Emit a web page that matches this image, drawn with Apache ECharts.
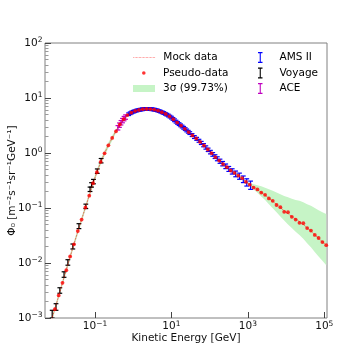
<!DOCTYPE html>
<html>
<head>
<meta charset="utf-8">
<title>Flux spectrum</title>
<script src="https://cdn.jsdelivr.net/npm/echarts@6.0.0/dist/echarts.min.js"></script>
<style>
  html, body { margin: 0; padding: 0; background: #fff; }
  #chart { width: 364px; height: 364px; }
</style>
</head>
<body>
<div id="chart"></div>
<script>
// every value below is log10: energy in GeV, flux in m^-2 s^-1 sr^-1 GeV^-1
var mockLogE = [-2.15, -2.05, -1.95, -1.85, -1.75, -1.65, -1.55, -1.45, -1.35, -1.25, -1.15, -1.05, -0.95, -0.85, -0.75, -0.65, -0.55, -0.45, -0.35, -0.25, -0.15, -0.05,
  0.05, 0.15, 0.25, 0.35, 0.45, 0.55, 0.65, 0.75, 0.85, 0.95, 1.05, 1.15, 1.25, 1.35, 1.45, 1.55, 1.65, 1.75, 1.85, 1.95, 2.05, 2.15, 2.25, 2.35, 2.45, 2.55, 2.65, 2.75, 2.85, 2.95,
  3.05, 3.15, 3.25, 3.35, 3.45, 3.55, 3.65, 3.75, 3.85, 3.95, 4.05, 4.15, 4.25, 4.35, 4.45, 4.55, 4.65, 4.75, 4.85, 4.95, 5.05];
var mockLogFlux = [-3.065, -2.835, -2.60, -2.36, -2.12, -1.885, -1.655, -1.43, -1.21, -0.99, -0.77, -0.55, -0.345, -0.165, -0.005, 0.14, 0.272, 0.398, 0.518, 0.618, 0.688, 0.733,
  0.763, 0.783, 0.796, 0.801, 0.798, 0.788, 0.769, 0.742, 0.709, 0.667, 0.613, 0.554, 0.498, 0.44, 0.38, 0.32, 0.263, 0.203, 0.135, 0.065, -0.005, -0.073, -0.138, -0.20, -0.26, -0.315, -0.365, -0.41, -0.46, -0.522,
  -0.578, -0.623, -0.668, -0.715, -0.765, -0.82, -0.878, -0.935, -0.993, -1.05, -1.105, -1.155, -1.203, -1.248, -1.30, -1.36, -1.42, -1.485, -1.553, -1.615, -1.675];
var pseudoLogFlux = [-3.06, -2.84, -2.59, -2.36, -2.13, -1.88, -1.66, -1.42, -1.21, -0.99, -0.775, -0.55, -0.35, -0.16, -0.005, 0.14, 0.275, 0.395, 0.52, 0.615, 0.69, 0.733,
  0.765, 0.782, 0.797, 0.80, 0.799, 0.787, 0.77, 0.741, 0.71, 0.666, 0.614, 0.553, 0.499, 0.44, 0.381, 0.319, 0.264, 0.202, 0.136, 0.064, -0.004, -0.075, -0.137, -0.202, -0.258, -0.318, -0.362, -0.413, -0.458, -0.525,
  -0.575, -0.628, -0.662, -0.72, -0.76, -0.825, -0.87, -0.945, -0.985, -1.07, -1.075, -1.16, -1.21, -1.27, -1.275, -1.365, -1.41, -1.49, -1.545, -1.62, -1.675];
// 3 sigma band, distance above / below the mock curve
var bandUp = [0.05, 0.05, 0.05, 0.05, 0.05, 0.05, 0.05, 0.05, 0.05, 0.05, 0.05, 0.05, 0.05, 0.05, 0.05, 0.05, 0.05, 0.03, 0.03, 0.03, 0.03, 0.03,
  0.03, 0.03, 0.03, 0.03, 0.02, 0.02, 0.02, 0.02, 0.02, 0.02, 0.02, 0.02, 0.02, 0.02, 0.02, 0.02, 0.02, 0.02, 0.02, 0.02, 0.02, 0.02, 0.02, 0.02, 0.02, 0.02, 0.02, 0.02, 0.02, 0.02,
  0.03, 0.055, 0.08, 0.11, 0.135, 0.16, 0.19, 0.215, 0.245, 0.27, 0.30, 0.325, 0.35, 0.38, 0.405, 0.43, 0.46, 0.485, 0.51, 0.54, 0.565];
var bandDown = [0.05, 0.05, 0.05, 0.05, 0.05, 0.05, 0.05, 0.05, 0.05, 0.05, 0.05, 0.05, 0.05, 0.05, 0.05, 0.05, 0.05, 0.03, 0.03, 0.03, 0.03, 0.03,
  0.03, 0.03, 0.03, 0.03, 0.02, 0.02, 0.02, 0.02, 0.02, 0.02, 0.02, 0.02, 0.02, 0.02, 0.02, 0.02, 0.02, 0.02, 0.02, 0.02, 0.02, 0.02, 0.02, 0.02, 0.02, 0.02, 0.02, 0.02, 0.02, 0.02,
  0.025, 0.04, 0.055, 0.075, 0.09, 0.11, 0.125, 0.14, 0.16, 0.175, 0.195, 0.21, 0.23, 0.245, 0.26, 0.28, 0.295, 0.315, 0.33, 0.345, 0.365];

var amsLogE = [-0.12, -0.08, -0.04, 0.00, 0.04, 0.08, 0.12, 0.16, 0.20, 0.24, 0.28, 0.32, 0.36, 0.40, 0.44, 0.48, 0.52, 0.56, 0.60, 0.64, 0.68, 0.72, 0.76, 0.80, 0.84, 0.88, 0.92, 0.96,
  1.00, 1.04, 1.08, 1.12, 1.16, 1.20, 1.24, 1.28, 1.32, 1.36, 1.40, 1.44, 1.48, 1.54, 1.60, 1.66, 1.72, 1.78, 1.84, 1.90, 1.96, 2.02, 2.08, 2.14, 2.20, 2.27, 2.34, 2.42, 2.50, 2.59, 2.68, 2.78, 2.88, 2.97, 3.07];
var amsLogFlux = [0.705, 0.722, 0.737, 0.750, 0.760, 0.770, 0.778, 0.784, 0.790, 0.794, 0.798, 0.800, 0.801, 0.800, 0.799, 0.796, 0.792, 0.787, 0.780, 0.772, 0.762, 0.751, 0.739, 0.727, 0.712, 0.697, 0.681, 0.662,
  0.643, 0.620, 0.595, 0.570, 0.547, 0.525, 0.503, 0.481, 0.458, 0.434, 0.410, 0.386, 0.362, 0.326, 0.290, 0.257, 0.222, 0.183, 0.142, 0.100, 0.058, 0.016, -0.026, -0.066, -0.105, -0.150, -0.194, -0.242, -0.290, -0.335, -0.380, -0.422, -0.478, -0.535, -0.586];
var amsErr = [0.024, 0.024, 0.024, 0.024, 0.024, 0.024, 0.024, 0.024, 0.024, 0.024, 0.024, 0.024, 0.024, 0.024, 0.024, 0.024, 0.024, 0.024, 0.024, 0.024, 0.024, 0.024, 0.024, 0.024, 0.024, 0.024, 0.024, 0.024,
  0.025, 0.025, 0.025, 0.025, 0.025, 0.025, 0.025, 0.025, 0.025, 0.025, 0.025, 0.025, 0.025, 0.026, 0.026, 0.027, 0.027, 0.028, 0.029, 0.03, 0.031, 0.032, 0.033, 0.034, 0.036, 0.038, 0.04, 0.042, 0.045, 0.048, 0.052, 0.056, 0.06, 0.066, 0.075];

var voyLogE = [-2.12, -2.02, -1.92, -1.81, -1.71, -1.58, -1.42, -1.24, -1.13, -1.09, -1.04, -0.94, -0.84];
var voyLogFlux = [-2.93, -2.80, -2.50, -2.21, -1.99, -1.70, -1.33, -0.97, -0.66, -0.58, -0.52, -0.33, -0.14];
var voyErr = [0.07, 0.06, 0.05, 0.05, 0.05, 0.045, 0.045, 0.04, 0.04, 0.04, 0.04, 0.04, 0.04];

var aceLogE = [-0.40, -0.36, -0.32, -0.28, -0.24, -0.20];
var aceLogFlux = [0.458, 0.506, 0.55, 0.589, 0.625, 0.653];
var aceErr = [0.04, 0.04, 0.04, 0.04, 0.04, 0.04];

var xTickExp = [-1, 1, 3, 5];
var yTickExp = [-3, -2, -1, 0, 1, 2];

var font = 'DejaVu Sans';
var yMinor = [];
for (var n = -3; n < 2; n++) {
  for (var k = 2; k <= 9; k++) yMinor.push(n + Math.log10(k));
}

function pairs(xs, ys) {
  return xs.map(function (x, i) { return [x, ys[i]]; });
}
function triples(xs, ys, es) {
  return xs.map(function (x, i) { return [x, ys[i], es[i]]; });
}

function powLabel(v) {
  var n = Math.round(v);
  return '{b|10}{s|' + (n < 0 ? '\u2212' + (-n) : n) + '}';
}
var tickRich = {
  b: { fontSize: 10.5, lineHeight: 13, fontFamily: font, color: '#111' },
  s: { fontSize: 7.5, lineHeight: 6, verticalAlign: 'top', fontFamily: font, color: '#111' }
};

function errorBars(params, api) {
  var x = api.value(0), y = api.value(1), e = api.value(2);
  var hi = api.coord([x, y + e]);
  var lo = api.coord([x, y - e]);
  var cap = 2.4;
  var style = { stroke: api.visual('color'), lineWidth: 1.2, fill: null };
  return {
    type: 'group',
    children: [
      { type: 'line', shape: { x1: hi[0], y1: hi[1], x2: lo[0], y2: lo[1] }, style: style },
      { type: 'line', shape: { x1: hi[0] - cap, y1: hi[1], x2: hi[0] + cap, y2: hi[1] }, style: style },
      { type: 'line', shape: { x1: lo[0] - cap, y1: lo[1], x2: lo[0] + cap, y2: lo[1] }, style: style }
    ]
  };
}

// the whole band is one polygon, drawn once from the arrays
function bandPolygon(params, api) {
  if (params.dataIndex !== 0) return null;
  var pts = [];
  for (var i = 0; i < mockLogE.length; i++) pts.push(api.coord([mockLogE[i], mockLogFlux[i] + bandUp[i]]));
  for (var j = mockLogE.length - 1; j >= 0; j--) pts.push(api.coord([mockLogE[j], mockLogFlux[j] - bandDown[j]]));
  return { type: 'polygon', shape: { points: pts }, style: { fill: '#c6f4c6', stroke: null } };
}

var ibeam = 'path://M0,0H5V1.2H3.1V10.8H5V12H0V10.8H1.9V1.2H0Z';
function legendAt(item, left, top, w, h, pad) {
  return {
    data: [item], left: left, top: top, itemWidth: w, itemHeight: h, padding: 0,
    selectedMode: false,
    textStyle: { fontFamily: font, fontSize: 10.5, lineHeight: 14, color: '#000', padding: [0, 0, 0, pad] }
  };
}

var chart = echarts.init(document.getElementById('chart'), null, { renderer: 'canvas' });
chart.setOption({
  animation: false,
  backgroundColor: '#fff',
  grid: { left: 45, right: 37, top: 43, bottom: 46, outerBoundsMode: 'none', containLabel: false,
    show: true, borderColor: '#808080', borderWidth: 1 },
  legend: [
    legendAt({ name: 'Mock data', itemStyle: { opacity: 0 },
      lineStyle: { width: 0.7, color: '#ff5050', type: 'dotted' } }, 133, 50.5, 22, 4, 3),
    legendAt({ name: 'Pseudo-data', icon: 'circle' }, 142, 66, 3.6, 3.6, 12.4),
    legendAt({ name: '3\u03c3 (99.73%)', icon: 'rect', itemStyle: { color: '#c6f4c6' } }, 133, 81.5, 22, 7, 3),
    legendAt({ name: 'AMS II', icon: ibeam, itemStyle: { color: '#0000ff' } }, 258, 50.5, 4.5, 11, 12),
    legendAt({ name: 'Voyage', icon: ibeam, itemStyle: { color: '#000000' } }, 258, 66, 4.5, 11, 12),
    legendAt({ name: 'ACE', icon: ibeam, itemStyle: { color: '#bf00bf' } }, 258, 81.5, 4.5, 11, 12)
  ],
  xAxis: {
    type: 'value', min: -2.308, max: 5.07,
    axisLine: { show: false, onZero: false },
    splitLine: { show: false },
    axisTick: { inside: true, length: 6, customValues: xTickExp, lineStyle: { color: '#444' } },
    axisLabel: { customValues: xTickExp, formatter: powLabel, margin: 2, rich: tickRich },
    name: 'Kinetic Energy [GeV]', nameLocation: 'middle', nameGap: 15, nameMoveOverlap: false,
    nameTextStyle: { fontFamily: font, fontSize: 10.5, color: '#111' }
  },
  yAxis: [{
    type: 'value', min: -3, max: 2,
    axisLine: { show: false, onZero: false },
    splitLine: { show: false },
    axisTick: { inside: true, length: 6, customValues: yTickExp, lineStyle: { color: '#444' } },
    axisLabel: { customValues: yTickExp, formatter: powLabel, margin: 2.5, rich: tickRich },
    name: '\u03a6\u2080 [m\u207b\u00b2s\u207b\u00b9sr\u207b\u00b9GeV\u207b\u00b9]', nameLocation: 'middle', nameGap: 27,
    nameMoveOverlap: false,
    nameTextStyle: { fontFamily: font, fontSize: 10.5, color: '#111' }
  }, {
    type: 'value', min: -3, max: 2, position: 'left',
    axisLine: { show: false, onZero: false },
    splitLine: { show: false },
    axisLabel: { show: false },
    axisTick: { inside: true, length: 3.5, customValues: yMinor, lineStyle: { color: '#9a9a9a' } }
  }],
  series: [
    { name: '3\u03c3 (99.73%)', type: 'custom', renderItem: bandPolygon, data: pairs(mockLogE, mockLogFlux),
      encode: { x: 0, y: 1 }, itemStyle: { color: '#c6f4c6' }, clip: true, silent: true },
    { name: 'Voyage', type: 'custom', renderItem: errorBars, data: triples(voyLogE, voyLogFlux, voyErr),
      encode: { x: 0, y: 1 }, itemStyle: { color: '#000000' }, clip: true },
    { name: 'ACE', type: 'custom', renderItem: errorBars, data: triples(aceLogE, aceLogFlux, aceErr),
      encode: { x: 0, y: 1 }, itemStyle: { color: '#bf00bf' }, clip: true },
    { name: 'AMS II', type: 'custom', renderItem: errorBars, data: triples(amsLogE, amsLogFlux, amsErr),
      encode: { x: 0, y: 1 }, itemStyle: { color: '#0000ff' }, clip: true },
    { name: 'Mock data', type: 'line', data: pairs(mockLogE, mockLogFlux), symbol: 'none',
      itemStyle: { color: '#ff0000' }, lineStyle: { color: '#ff0000', width: 0.8, type: 'dotted' } },
    { name: 'Pseudo-data', type: 'scatter', data: pairs(mockLogE, pseudoLogFlux), symbolSize: 3.8,
      itemStyle: { color: '#ff0000' } }
  ]
});
</script>
</body>
</html>
